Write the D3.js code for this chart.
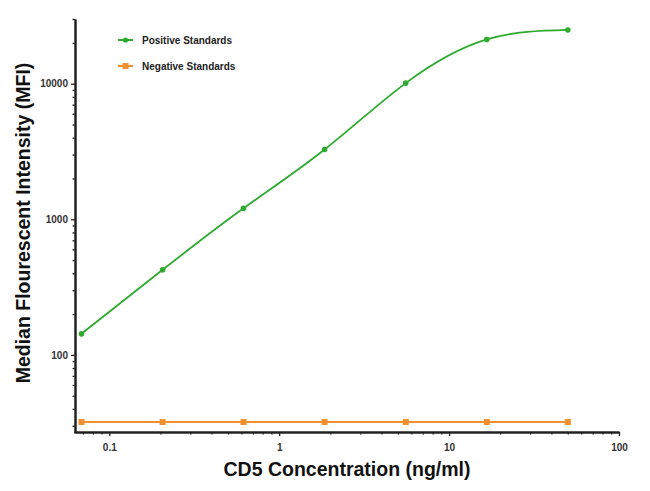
<!DOCTYPE html>
<html>
<head>
<meta charset="utf-8">
<script src="https://cdn.jsdelivr.net/npm/d3@7"></script>
<style>
  body { margin: 0; background: #fff; }
  text { font-family: "Liberation Sans", Arial, sans-serif; }
</style>
</head>
<body>
<script>
// data
const conc = [0.0686, 0.206, 0.617, 1.85, 5.56, 16.67, 50];
const positive = [143, 424, 1205, 3270, 10100, 21200, 24900];
const negative = [32, 32, 32, 32, 32, 32, 32];
const seriesNames = ["Positive Standards", "Negative Standards"];
const xMajor = [0.1, 1, 10, 100];
const yMajor = [100, 1000, 10000];

const w = 650, h = 491;
const green = "#2eaa2e", orange = "#f0902e";

const svg = d3.select("body").append("svg")
  .attr("width", w).attr("height", h);

// scales
const x = d3.scaleLog().domain([0.062, 100]).range([74, 619]);
const y = d3.scaleLog().domain([27, 30000]).range([432, 19]);

// minor tick values
const xMinor = [], yMinor = [];
[0.01, 0.1, 1, 10].forEach(d => { for (let k = 2; k <= 9; k++) { let v = d * k; if (v >= 0.062 && v <= 100) xMinor.push(v); } });
[10, 100, 1000, 10000].forEach(d => { for (let k = 2; k <= 9; k++) { let v = d * k; if (v >= 27 && v <= 30000) yMinor.push(v); } });

//axes
const xAxisG = svg.append("g").attr("transform", "translate(0,432)");
xAxisG.call(d3.axisBottom(x).tickValues(xMajor).tickFormat(d3.format("")).tickSize(4).tickSizeOuter(0));
xAxisG.append("g").call(d3.axisBottom(x).tickValues(xMinor).tickFormat("").tickSize(2.5).tickSizeOuter(0));

const yAxisG = svg.append("g").attr("transform", "translate(75,0)");
yAxisG.call(d3.axisLeft(y).tickValues(yMajor).tickFormat(d3.format("")).tickSize(4).tickSizeOuter(0));
yAxisG.append("g").call(d3.axisLeft(y).tickValues(yMinor).tickFormat("").tickSize(2.5).tickSizeOuter(0));

svg.selectAll(".domain").attr("stroke", "#222").attr("stroke-width", 2);
svg.selectAll(".tick line").attr("stroke", "#222").attr("stroke-width", 1.3);
svg.selectAll(".tick text").attr("font-size", 10).attr("font-weight", "bold").attr("fill", "#333")
   .attr("font-family", "Liberation Sans, Arial, sans-serif");
xAxisG.selectAll(".tick text").attr("dy", "1.2em");

// axis titles
svg.append("text")
   .attr("x", 347).attr("y", 476)
   .attr("text-anchor", "middle")
   .attr("font-size", 19.5).attr("font-weight", "bold").attr("fill", "#111")
   .text("CD5 Concentration (ng/ml)");

svg.append("text")
   .attr("transform", "translate(30,223) rotate(-90)")
   .attr("text-anchor", "middle")
   .attr("font-size", 19.5).attr("font-weight", "bold").attr("fill", "#111")
   .text("Median Flourescent Intensity (MFI)");

// lines
const posData = conc.map((c, i) => [c, positive[i]]);
const negData = conc.map((c, i) => [c, negative[i]]);

const posLine = d3.line().x(d => x(d[0])).y(d => y(d[1])).curve(d3.curveNatural);
const negLine = d3.line().x(d => x(d[0])).y(d => y(d[1]));

svg.append("path").datum(negData).attr("d", negLine)
   .attr("fill", "none").attr("stroke", orange).attr("stroke-width", 2);
svg.append("path").datum(posData).attr("d", posLine)
   .attr("fill", "none").attr("stroke", green).attr("stroke-width", 1.8);

svg.selectAll(".negpt").data(negData).enter().append("rect")
   .attr("class", "negpt")
   .attr("x", d => x(d[0]) - 3).attr("y", d => y(d[1]) - 3)
   .attr("width", 6).attr("height", 6)
   .attr("fill", orange);

svg.selectAll(".pospt").data(posData).enter().append("circle")
   .attr("class", "pospt")
   .attr("cx", d => x(d[0])).attr("cy", d => y(d[1]))
   .attr("r", 2.8)
   .attr("fill", green);

// legend
const legend = svg.append("g");
seriesNames.forEach((name, i) => {
  const ly = 40 + i * 26, col = i == 0 ? green : orange;
  legend.append("line").attr("x1", 118).attr("x2", 133).attr("y1", ly).attr("y2", ly)
        .attr("stroke", col).attr("stroke-width", 2);
  if (i == 0) legend.append("circle").attr("cx", 125.5).attr("cy", ly).attr("r", 2.6).attr("fill", col);
  else legend.append("rect").attr("x", 122.5).attr("y", ly - 3).attr("width", 6).attr("height", 6).attr("fill", col);
  legend.append("text").attr("x", 142).attr("y", ly + 3.5)
        .attr("font-size", 10).attr("font-weight", "bold").attr("fill", "#222")
        .text(name);
});
</script>
</body>
</html>
